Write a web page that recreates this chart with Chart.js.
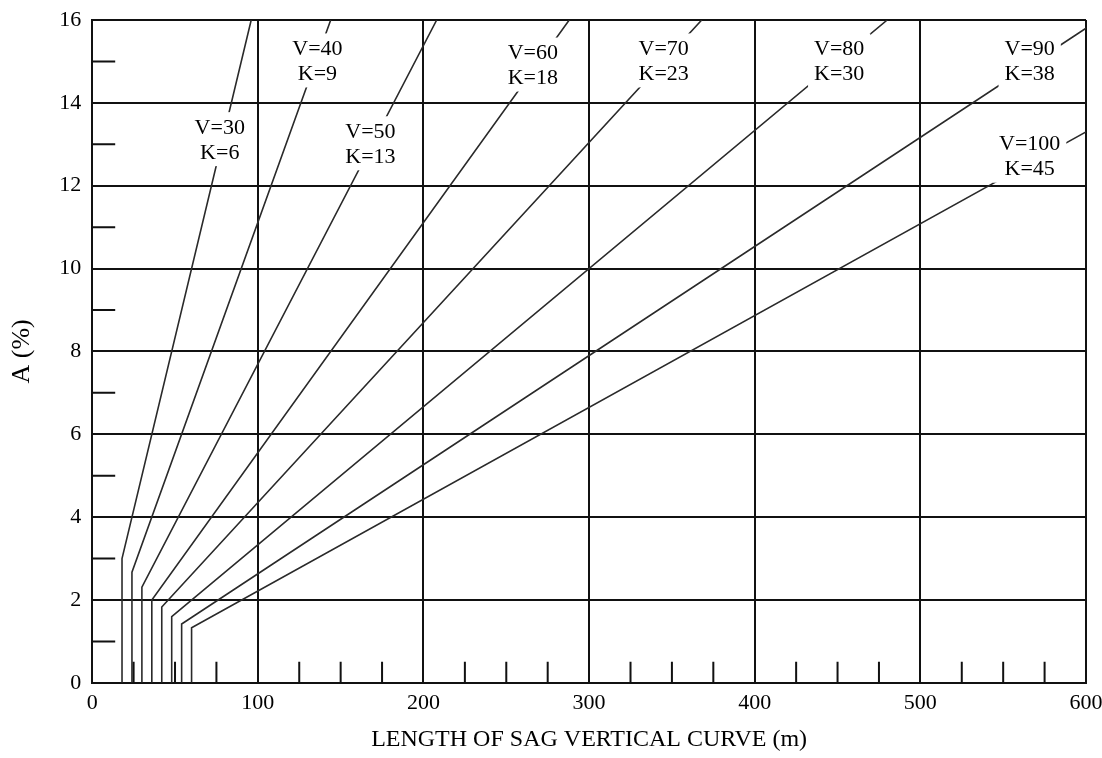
<!DOCTYPE html>
<html>
<head>
<meta charset="utf-8">
<script src="https://cdn.jsdelivr.net/npm/chart.js@4/dist/chart.umd.min.js"></script>
<style>
    body { margin: 0; background: #fff; }
    canvas { display: block; }
</style>
</head>
<body>
<canvas id="sagChart" width="1102" height="758"></canvas>
<script>
        // Design speeds and K values of each curve
        const speeds = [30, 40, 50, 60, 70, 80, 90, 100];
        const kValues = [6, 9, 13, 18, 23, 30, 38, 45];
        // minimum length (vertical part) and where the sloped part starts
        const minLengths = [18, 24, 30, 36, 42, 48, 54, 60];
        const breakA = [3.0, 2.67, 2.31, 2.0, 1.83, 1.6, 1.42, 1.33];
        // end of each sloped line at the chart border
        const endLengths = [96, 144, 208, 288, 368, 480, 600, 600];
        const endA = [16, 16, 16, 16, 16, 16, 15.8, 13.3];
        // label box centres (data units)
        const labelX = [77, 136, 168, 266, 345, 451, 566, 566];
        const labelY = [13.1, 15.0, 13.0, 14.9, 15.0, 15.0, 15.0, 12.7];

        const minorX = [25, 50, 75, 125, 150, 175, 225, 250, 275, 325, 350, 375, 425, 450, 475, 525, 550, 575];
        const minorY = [1, 3, 5, 7, 9, 11, 13, 15];

        const serif = "'Liberation Serif', 'Times New Roman', serif";

        const datasets = speeds.map(function(v, i) {
            return {
                label: 'V=' + v,
                data: [
                    { x: minLengths[i], y: 0 },
                    { x: minLengths[i], y: breakA[i] },
                    { x: endLengths[i], y: endA[i] }
                ],
                borderColor: '#2a2a2a',
                borderWidth: 1.6,
                pointRadius: 0,
                showLine: true,
                fill: false,
                tension: 0
            };
        });

        // short ticks along the bottom and left edges
        const minorTicks = {
            id: 'minorTicks',
            afterDraw: function(chart) {
                const ctx = chart.ctx;
                const xs = chart.scales.x, ys = chart.scales.y;
                const area = chart.chartArea;
                ctx.save();
                ctx.strokeStyle = '#111';
                ctx.lineWidth = 2;
                ctx.beginPath();
                minorX.forEach(function(v) {
                    const px = xs.getPixelForValue(v);
                    ctx.moveTo(px, area.bottom);
                    ctx.lineTo(px, area.bottom - 21);
                });
                minorY.forEach(function(v) {
                    const py = ys.getPixelForValue(v);
                    ctx.moveTo(area.left, py);
                    ctx.lineTo(area.left + 23, py);
                });
                ctx.stroke();
                ctx.restore();
            }
        };

        // V / K labels on white boxes
        const curveLabels = {
            id: 'curveLabels',
            afterDatasetsDraw: function(chart) {
                const ctx = chart.ctx;
                const xs = chart.scales.x, ys = chart.scales.y;
                ctx.save();
                ctx.font = '22px ' + serif;
                ctx.textAlign = 'center';
                ctx.textBaseline = 'middle';
                speeds.forEach(function(v, i) {
                    const px = xs.getPixelForValue(labelX[i]);
                    const py = ys.getPixelForValue(labelY[i]);
                    const l1 = 'V=' + v, l2 = 'K=' + kValues[i];
                    const w = Math.max(ctx.measureText(l1).width, ctx.measureText(l2).width) + 12;
                    ctx.fillStyle = '#fff';
                    ctx.fillRect(px - w / 2, py - 28, w, 54);
                    ctx.fillStyle = '#000';
                    ctx.fillText(l1, px, py - 12);
                    ctx.fillText(l2, px, py + 13);
                });
                ctx.restore();
            }
        };

        const sagCtx = document.getElementById('sagChart').getContext('2d');
        const sagChart = new Chart(sagCtx, {
            type: 'scatter',
            data: { datasets: datasets },
            options: {
                responsive: false,
                animation: false,
                layout: {
                    padding: { left: 4, right: 16, top: 20, bottom: 4 }
                },
                plugins: {
                    legend: { display: false },
                    tooltip: { enabled: false }
                },
                scales: {
                    x: {
                        type: 'linear',
                        min: 0,
                        max: 600,
                        afterFit: function(scale) {
                            scale.paddingLeft = 0;
                            scale.paddingRight = 0;
                        },
                        ticks: {
                            stepSize: 100,
                            color: '#000',
                            padding: 7,
                            font: { family: serif, size: 22 }
                        },
                        grid: { color: '#111', lineWidth: 2, drawTicks: false },
                        border: { color: '#111', width: 2 },
                        title: {
                            display: true,
                            text: 'LENGTH OF SAG VERTICAL CURVE (m)',
                            color: '#000',
                            padding: { top: 2, bottom: 0 },
                            font: { family: serif, size: 24 }
                        }
                    },
                    y: {
                        min: 0,
                        max: 16,
                        afterFit: function(scale) {
                            scale.paddingTop = 0;
                            scale.paddingBottom = 0;
                        },
                        ticks: {
                            stepSize: 2,
                            color: '#000',
                            padding: 11,
                            font: { family: serif, size: 22 }
                        },
                        grid: { color: '#111', lineWidth: 2, drawTicks: false },
                        border: { color: '#111', width: 2 },
                        title: {
                            display: true,
                            text: 'A (%)',
                            color: '#000',
                            padding: { top: 3, bottom: 10 },
                            font: { family: serif, size: 26 }
                        }
                    }
                }
            },
            plugins: [minorTicks, curveLabels]
        });
</script>
</body>
</html>
